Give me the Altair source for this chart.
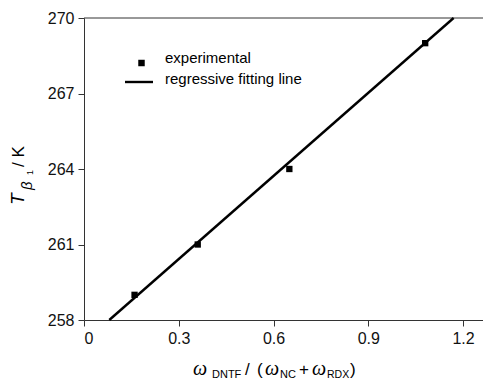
import altair as alt
import pandas as pd

# experimental points
x_exp = [0.16, 0.36, 0.65, 1.08]
y_exp = [259.0, 261.0, 264.0, 269.0]
# regressive fitting line end points
x_fit = [0.08, 1.17]
y_fit = [258.0, 270.0]
# axis ticks
x_ticks = [0, 0.3, 0.6, 0.9, 1.2]
y_ticks = [258, 261, 264, 267, 270]
x_domain = [0, 1.263]
y_domain = [258, 270]

W, H = 399, 302
AX = "#333333"
SANS = "Liberation Sans"
SERIF = "Liberation Serif"

xs = alt.Scale(domain=x_domain, nice=False, zero=False)
ys = alt.Scale(domain=y_domain, nice=False, zero=False)

pts = pd.DataFrame({"x": x_exp, "y": y_exp})
fit = pd.DataFrame({"x": x_fit, "y": y_fit})

xaxis = alt.Axis(values=x_ticks, title=None,
                 labelExpr="datum.value == 0 ? '0' : format(datum.value, '.1f')")
yaxis = alt.Axis(values=y_ticks, title=None, format="d")

line = alt.Chart(fit).mark_line(color="black", strokeWidth=2.4).encode(
    x=alt.X("x:Q", scale=xs, axis=xaxis),
    y=alt.Y("y:Q", scale=ys, axis=yaxis),
)
points = alt.Chart(pts).mark_square(color="black", size=40, opacity=1).encode(
    x=alt.X("x:Q", scale=xs),
    y=alt.Y("y:Q", scale=ys),
)
top = alt.Chart(pd.DataFrame({"y": [y_domain[1]]})).mark_rule(color=AX, strokeWidth=1).encode(
    y=alt.Y("y:Q", scale=ys), x=alt.value(0), x2=alt.value(W)
)


def txt(s, x, y, size, font=SANS, style="normal", angle=0):
    return alt.Chart(pd.DataFrame({"t": [s]})).mark_text(
        align="left", baseline="alphabetic", fontSize=size, font=font,
        fontStyle=style, angle=angle, color="black"
    ).encode(x=alt.value(x), y=alt.value(y), text="t:N")


# legend
leg_pt = alt.Chart(pd.DataFrame({"t": ["experimental"]})).mark_square(
    color="black", size=42, opacity=1).encode(x=alt.value(57.5), y=alt.value(45))
leg_ln = alt.Chart(pd.DataFrame({"t": ["regressive fitting line"]})).mark_rule(
    color="black", strokeWidth=2.4).encode(x=alt.value(41), x2=alt.value(69), y=alt.value(64))
leg_t1 = txt("experimental", 81, 45, 15)
leg_t2 = txt("regressive fitting line", 81, 66, 15)

# x axis title: ω_DNTF / (ω_NC + ω_RDX)
xt = [
    txt("ω", 109, 357, 20, SERIF, "italic"),
    txt("DNTF", 128, 360, 11),
    txt("/", 161, 357, 17),
    txt("(", 173, 357, 17),
    txt("ω", 181, 357, 20, SERIF, "italic"),
    txt("NC", 196, 360, 11),
    txt("+", 215, 357, 17),
    txt("ω", 228, 357, 20, SERIF, "italic"),
    txt("RDX", 243, 360, 10.5),
    txt(")", 266, 357, 17),
]
# y axis title: T_β1 / K (rotated)
yt = [
    txt("T", -60, 187, 19, SANS, "italic", 270),
    txt("β", -52, 172, 15, SANS, "italic", 270),
    txt("1", -51, 157, 9, SANS, "normal", 270),
    txt("/ K", -60, 149, 17, SANS, "normal", 270),
]

chart = alt.layer(top, line, points, leg_pt, leg_ln, leg_t1, leg_t2, *xt, *yt).properties(
    width=W, height=H,
    padding={"left": 76, "top": 10, "right": 0, "bottom": 62},
    autosize=alt.AutoSizeParams(type="none"),
).configure_view(stroke=None).configure_axis(
    grid=False, domainColor=AX, tickColor=AX, domainWidth=1, tickWidth=1,
    tickSize=6, labelFont=SANS, labelFontSize=16, labelColor="#111111",
    labelPadding=4,
)

chart.save("out.html", embed_options={"renderer": "svg", "actions": False})
